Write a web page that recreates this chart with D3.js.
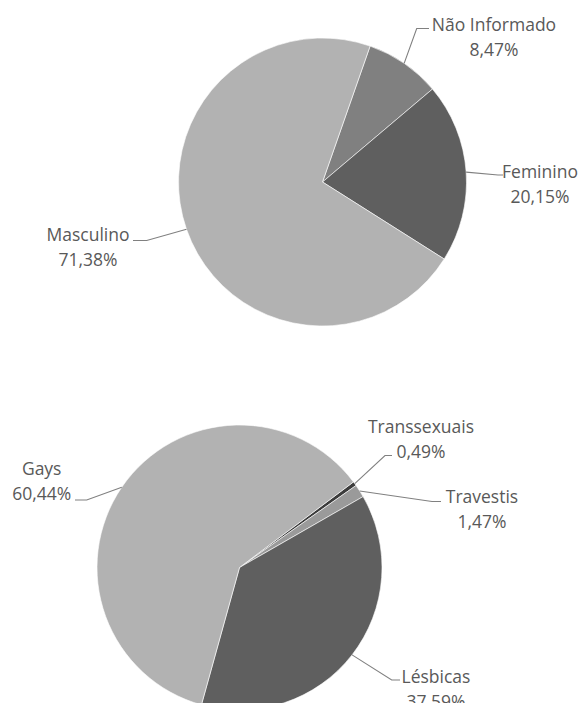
<!DOCTYPE html>
<html>
<head>
<meta charset="utf-8">
<script src="https://cdn.jsdelivr.net/npm/d3@7"></script>
<style>
  html, body { margin: 0; padding: 0; background: #fff; }
  svg { display: block; }
  text { font-family: "Open Sans", sans-serif; font-size: 17.5px; fill: #595959; }
</style>
</head>
<body>
<svg id="chart" width="582" height="703"></svg>
<script>
// ---- Data ----
const genderCategories = ["Não Informado", "Feminino", "Masculino"];
const genderValues = [8.47, 20.15, 71.38];
const orientationCategories = ["Transsexuais", "Travestis", "Lésbicas", "Gays"];
const orientationValues = [0.49, 1.47, 37.59, 60.44];

// ---- Styles / layout ----
const genderColors = ["#808080", "#5f5f5f", "#b2b2b2"];
const orientationColors = ["#3c3c3c", "#9a9a9a", "#5f5f5f", "#b2b2b2"];

const charts = [
  {
    cats: genderCategories, vals: genderValues, colors: genderColors,
    cx: 322.5, cy: 182, r: 144, startDeg: 19.3,
    labels: [
      { tx: 494, ty: 31, elbow: [416.7, 28.5], end: [429, 28.5] },
      { tx: 540, ty: 178, elbow: [498, 175], end: [503, 175] },
      { tx: 88, ty: 241, elbow: [146.7, 240.5], end: [133, 240.5] }
    ]
  },
  {
    cats: orientationCategories, vals: orientationValues, colors: orientationColors,
    cx: 239.5, cy: 567.5, r: 142.5, startDeg: 53.1,
    labels: [
      { tx: 421, ty: 433, elbow: [385, 455.5], end: [392, 455.5] },
      { tx: 482, ty: 503, elbow: [432, 501.5], end: [441, 501.5] },
      { tx: 436, ty: 683, elbow: [391.7, 680], end: [400, 680] },
      { tx: 41.7, ty: 475, elbow: [86.7, 500], end: [75, 500] }
    ]
  }
];

const fmt = v => d3.format(".2f")(v).replace(".", ",") + "%";
const lineGap = 24.5;
const svg = d3.select("#chart");

charts.forEach(c => {
  const data = c.cats.map((name, i) => ({ name, v: c.vals[i], color: c.colors[i], lab: c.labels[i] }));
  const s = c.startDeg * Math.PI / 180;
  const pie = d3.pie().sort(null).value(d => d.v).startAngle(s).endAngle(s + 2 * Math.PI);
  const arcs = pie(data);
  const arc = d3.arc().innerRadius(0).outerRadius(c.r);

  const g = svg.append("g").attr("transform", `translate(${c.cx},${c.cy})`);
  g.selectAll("path.slice").data(arcs).join("path")
    .attr("class", "slice")
    .attr("d", arc)
    .attr("fill", d => d.data.color)
    .attr("stroke", "#ffffff")
    .attr("stroke-width", 0.6)
    .attr("stroke-linejoin", "round");

  // leader lines
  arcs.forEach(d => {
    const a = (d.startAngle + d.endAngle) / 2;
    const p0 = [c.cx + c.r * Math.sin(a), c.cy - c.r * Math.cos(a)];
    const L = d.data.lab;
    svg.append("path")
      .attr("d", d3.line()([p0, L.elbow, L.end]))
      .attr("fill", "none")
      .attr("stroke", "#808080")
      .attr("stroke-width", 1.1);
    const t = svg.append("text").attr("text-anchor", "middle");
    t.append("tspan").attr("x", L.tx).attr("y", L.ty).text(d.data.name);
    t.append("tspan").attr("x", L.tx).attr("y", L.ty + lineGap).text(fmt(d.data.v));
  });
});
</script>
</body>
</html>
